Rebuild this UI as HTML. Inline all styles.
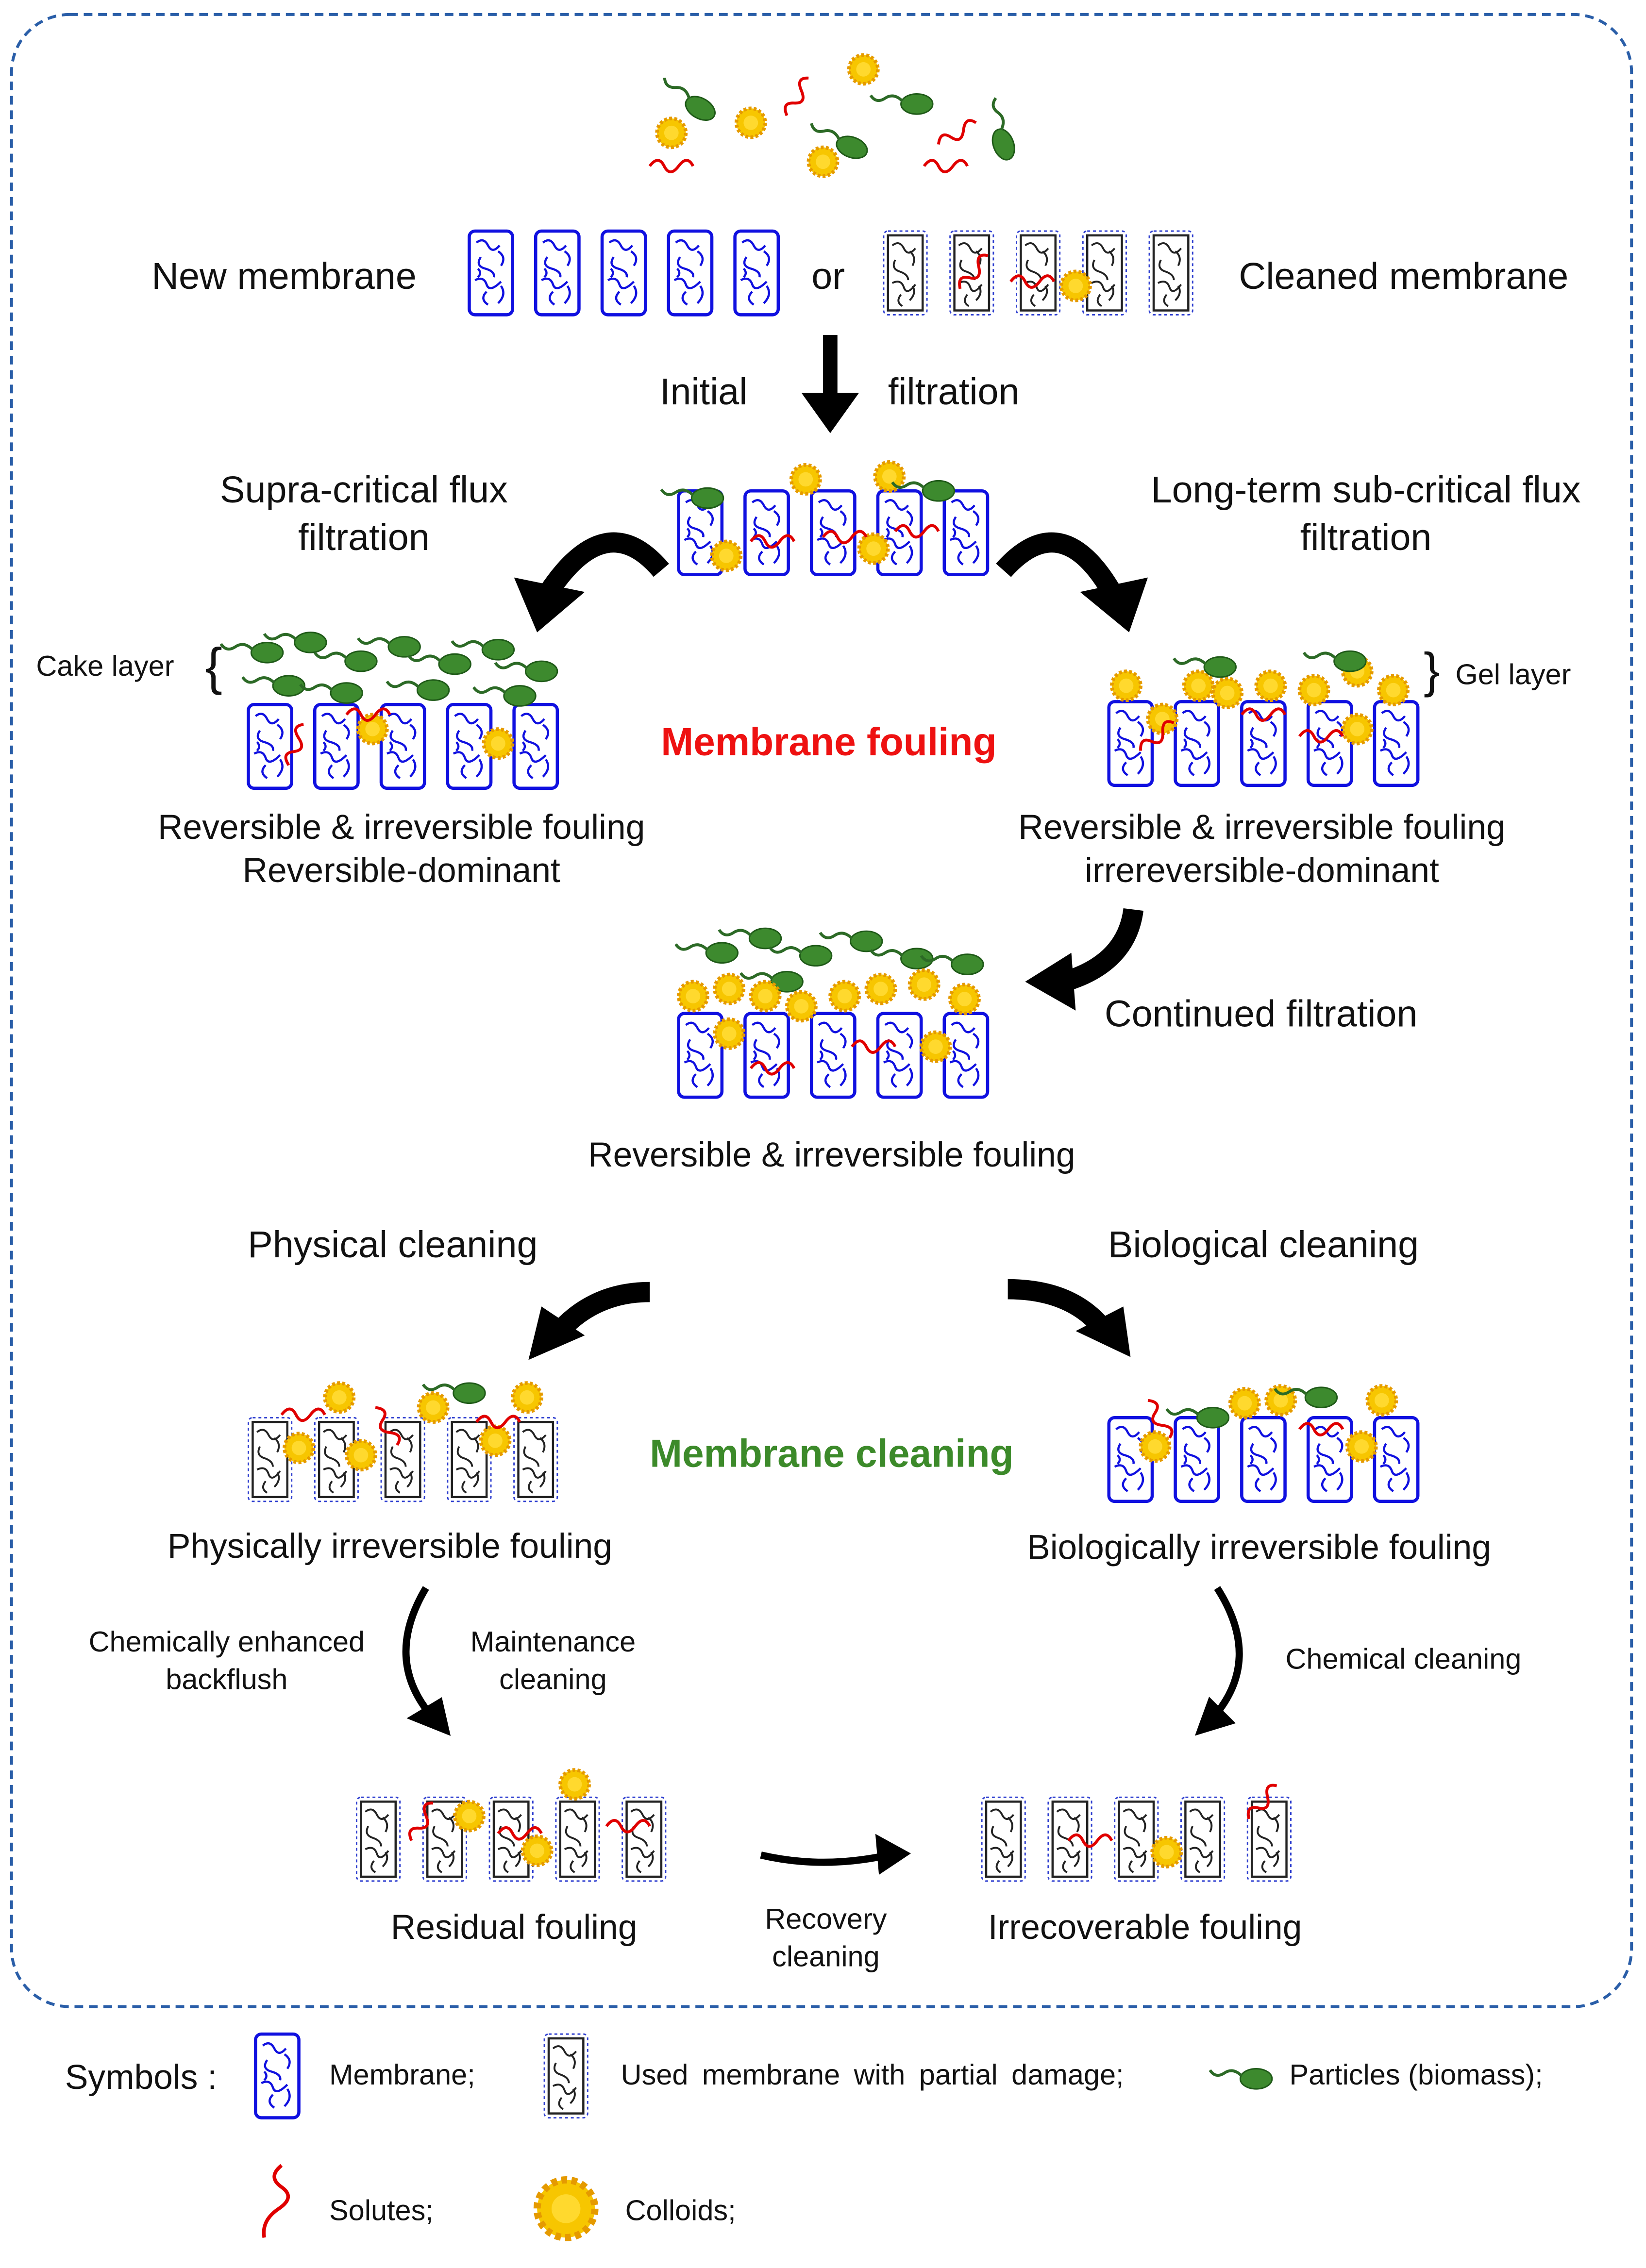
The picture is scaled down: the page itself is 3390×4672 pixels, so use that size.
<!DOCTYPE html>
<html><head><meta charset="utf-8"><style>
html,body{margin:0;padding:0;background:#fff;width:3390px;height:4672px;overflow:hidden}
svg{display:block}
text{font-family:"Liberation Sans",Arial,sans-serif;fill:#111}
</style></head><body>
<svg width="3390" height="4672" viewBox="0 0 1140 1571" xmlns="http://www.w3.org/2000/svg">
<defs>
<g id="mem">
<rect x="0" y="0" width="30" height="58" rx="4" fill="#fff" stroke="#1010e0" stroke-width="2.2"/>
<path d="M5 8 q5 -4 8 2 t8 0 M8 18 q-4 6 3 8 t6 6 M20 14 q6 4 2 10 M4 34 q6 -3 8 3 t10 -2 M12 42 q-5 5 1 9 M22 38 q4 6 -2 12 M6 26 q3 3 0 6" fill="none" stroke="#1010e0" stroke-width="1.5"/>
</g>
<g id="used">
<rect x="0" y="0" width="30" height="58" rx="3" fill="#fff" stroke="#3040d0" stroke-width="1" stroke-dasharray="2,2"/>
<rect x="3" y="3" width="24" height="52" fill="#fff" stroke="#222" stroke-width="1.5"/>
<path d="M6 10 q5 -4 8 2 t8 0 M8 20 q-3 6 3 8 t6 6 M18 14 q5 4 2 10 M6 36 q6 -3 8 3 t8 -2 M12 44 q-4 5 1 8 M20 38 q3 5 -2 10" fill="none" stroke="#222" stroke-width="1.3"/>
</g>
<g id="col">
<circle r="10" fill="#f7c600" stroke="#e59a00" stroke-width="2.5" stroke-dasharray="2,1.5"/>
<circle r="5" fill="#ffd92e"/>
</g>
<g id="part">
<ellipse cx="0" cy="0" rx="11" ry="7" fill="#3d8a2e" stroke="#1f5a18" stroke-width="1"/>
<path d="M-10 -2 q-6 -6 -12 -2 t-10 -2" fill="none" stroke="#2c6a26" stroke-width="2"/>
</g>
<path id="sol" d="M0 0 q6 -8 10 0 t10 0 t10 0" fill="none" stroke="#e00000" stroke-width="2"/>
<g id="row5m"><use href="#mem" x="0"/><use href="#mem" x="46"/><use href="#mem" x="92"/><use href="#mem" x="138"/><use href="#mem" x="184"/></g>
<g id="row5u"><use href="#used" x="0"/><use href="#used" x="46"/><use href="#used" x="92"/><use href="#used" x="138"/><use href="#used" x="184"/></g>
</defs>

<rect x="8" y="10" width="1122" height="1380" rx="40" fill="none" stroke="#2a5ea8" stroke-width="2" stroke-dasharray="6,4"/>

<use href="#part" x="485" y="75" transform="rotate(30 485 75)"/>
<use href="#part" x="635" y="72"/>
<use href="#part" x="590" y="102" transform="rotate(20 590 102)"/>
<use href="#part" x="695" y="100" transform="rotate(70 695 100)"/>
<use href="#col" x="520" y="85"/><use href="#col" x="598" y="48"/><use href="#col" x="570" y="112"/><use href="#col" x="465" y="92"/>
<use href="#sol" x="450" y="115"/><use href="#sol" x="545" y="80" transform="rotate(-60 545 80)"/><use href="#sol" x="640" y="115"/><use href="#sol" x="650" y="100" transform="rotate(-30 650 100)"/>

<text x="105" y="200" font-size="26">New membrane</text>
<use href="#row5m" x="325" y="160"/>
<text x="562" y="200" font-size="26">or</text>
<use href="#row5u" x="612" y="160"/>
<use href="#sol" x="665" y="200" transform="rotate(-50 665 200)"/><use href="#sol" x="700" y="195"/><use href="#col" x="745" y="198"/>
<text x="858" y="200" font-size="26">Cleaned membrane</text>

<text x="457" y="280" font-size="26">Initial</text>
<text x="615" y="280" font-size="26">filtration</text>
<path d="M570 232 L580 232 L580 272 L595 272 L575 300 L555 272 L570 272z" fill="#000"/>

<text x="252" y="348" font-size="26" text-anchor="middle">Supra-critical flux</text>
<text x="252" y="381" font-size="26" text-anchor="middle">filtration</text>
<text x="946" y="348" font-size="26" text-anchor="middle">Long-term sub-critical flux</text>
<text x="946" y="381" font-size="26" text-anchor="middle">filtration</text>

<use href="#row5m" x="470" y="340"/>
<use href="#col" x="558" y="332"/><use href="#col" x="616" y="330"/><use href="#col" x="503" y="385"/><use href="#col" x="605" y="380"/>
<use href="#part" x="490" y="345"/><use href="#part" x="650" y="340"/>
<use href="#sol" x="520" y="375"/><use href="#sol" x="570" y="372"/><use href="#sol" x="620" y="368"/>

<path d="M458 395 Q420 350 380 410" fill="none" stroke="#000" stroke-width="14"/>
<path d="M356 400 L405 410 L372 438z" fill="#000"/>
<path d="M695 395 Q735 350 770 410" fill="none" stroke="#000" stroke-width="14"/>
<path d="M795 400 L748 410 L782 438z" fill="#000"/>

<text x="25" y="468" font-size="20">Cake layer</text>
<text x="142" y="474" font-size="36" fill="#444">{</text>
<use href="#row5m" x="172" y="488"/>
<g>
<use href="#part" x="185" y="452"/><use href="#part" x="215" y="445"/><use href="#part" x="250" y="458"/><use href="#part" x="280" y="448"/><use href="#part" x="315" y="460"/><use href="#part" x="345" y="450"/><use href="#part" x="375" y="465"/><use href="#part" x="200" y="475"/><use href="#part" x="300" y="478"/><use href="#part" x="360" y="482"/><use href="#part" x="240" y="480"/>
</g>
<use href="#col" x="345" y="515"/><use href="#col" x="258" y="505"/>
<use href="#sol" x="200" y="530" transform="rotate(-70 200 530)"/><use href="#sol" x="240" y="495"/>
<text x="278" y="581" font-size="24" text-anchor="middle">Reversible &amp; irreversible fouling</text>
<text x="278" y="611" font-size="24" text-anchor="middle">Reversible-dominant</text>

<use href="#row5m" x="768" y="486"/>
<use href="#col" x="780" y="475"/><use href="#col" x="805" y="498"/><use href="#col" x="850" y="480"/><use href="#col" x="880" y="475"/><use href="#col" x="910" y="478"/><use href="#col" x="940" y="465"/><use href="#col" x="965" y="478"/><use href="#col" x="940" y="505"/><use href="#col" x="830" y="475"/>
<use href="#part" x="845" y="462"/><use href="#part" x="935" y="458"/>
<use href="#sol" x="790" y="520" transform="rotate(-40 790 520)"/><use href="#sol" x="860" y="495"/><use href="#sol" x="900" y="510"/>
<text x="986" y="476" font-size="34" fill="#444">}</text>
<text x="1008" y="474" font-size="20">Gel layer</text>
<text x="874" y="581" font-size="24" text-anchor="middle">Reversible &amp; irreversible fouling</text>
<text x="874" y="611" font-size="24" text-anchor="middle">irrereversible-dominant</text>

<text x="574" y="523" font-size="27" font-weight="bold" text-anchor="middle" style="fill:#ee1111">Membrane fouling</text>

<path d="M785 630 Q780 670 730 682" fill="none" stroke="#000" stroke-width="14"/>
<path d="M710 680 L742 660 L745 700z" fill="#000"/>
<text x="765" y="711" font-size="26">Continued filtration</text>
<use href="#row5m" x="470" y="702"/>
<use href="#part" x="500" y="660"/><use href="#part" x="530" y="650"/><use href="#part" x="565" y="662"/><use href="#part" x="600" y="652"/><use href="#part" x="635" y="664"/><use href="#part" x="670" y="668"/><use href="#part" x="545" y="680"/>
<use href="#col" x="480" y="690"/><use href="#col" x="505" y="685"/><use href="#col" x="530" y="690"/><use href="#col" x="555" y="697"/><use href="#col" x="585" y="690"/><use href="#col" x="610" y="685"/><use href="#col" x="640" y="682"/><use href="#col" x="668" y="692"/><use href="#col" x="505" y="716"/><use href="#col" x="648" y="725"/>
<use href="#sol" x="520" y="740"/><use href="#sol" x="590" y="725"/>
<text x="576" y="808" font-size="24" text-anchor="middle">Reversible &amp; irreversible fouling</text>

<text x="272" y="871" font-size="26" text-anchor="middle">Physical cleaning</text>
<text x="875" y="871" font-size="26" text-anchor="middle">Biological cleaning</text>
<path d="M450 895 Q410 895 385 925" fill="none" stroke="#000" stroke-width="14"/>
<path d="M366 942 L375 905 L405 925z" fill="#000"/>
<path d="M698 893 Q740 893 762 918" fill="none" stroke="#000" stroke-width="14"/>
<path d="M783 940 L745 922 L778 905z" fill="#000"/>

<use href="#row5u" x="172" y="982"/>
<use href="#col" x="235" y="968"/><use href="#col" x="207" y="1003"/><use href="#col" x="250" y="1008"/><use href="#col" x="300" y="975"/><use href="#col" x="343" y="998"/><use href="#col" x="365" y="968"/>
<use href="#part" x="325" y="965"/>
<use href="#sol" x="195" y="980"/><use href="#sol" x="260" y="975" transform="rotate(60 260 975)"/><use href="#sol" x="330" y="985"/>
<text x="270" y="1079" font-size="24" text-anchor="middle">Physically irreversible fouling</text>

<text x="576" y="1016" font-size="27" font-weight="bold" text-anchor="middle" style="fill:#3c8a2a">Membrane cleaning</text>

<use href="#row5m" x="768" y="982"/>
<use href="#col" x="800" y="1002"/><use href="#col" x="862" y="972"/><use href="#col" x="887" y="970"/><use href="#col" x="957" y="970"/><use href="#col" x="943" y="1002"/>
<use href="#part" x="840" y="982"/><use href="#part" x="915" y="968"/>
<use href="#sol" x="795" y="970" transform="rotate(60 795 970)"/><use href="#sol" x="900" y="990"/>
<text x="872" y="1080" font-size="24" text-anchor="middle">Biologically irreversible fouling</text>

<path d="M295 1100 Q265 1150 300 1190" fill="none" stroke="#000" stroke-width="5"/>
<path d="M310 1200 L285 1190 L305 1178z" fill="#000" stroke="#000" stroke-width="3"/>
<text x="157" y="1144" font-size="20" text-anchor="middle">Chemically enhanced</text>
<text x="157" y="1170" font-size="20" text-anchor="middle">backflush</text>
<text x="383" y="1144" font-size="20" text-anchor="middle">Maintenance</text>
<text x="383" y="1170" font-size="20" text-anchor="middle">cleaning</text>

<path d="M843 1100 Q875 1150 840 1190" fill="none" stroke="#000" stroke-width="5"/>
<path d="M830 1200 L838 1178 L853 1193z" fill="#000" stroke="#000" stroke-width="3"/>
<text x="972" y="1156" font-size="20" text-anchor="middle">Chemical cleaning</text>

<use href="#row5u" x="247" y="1245"/>
<use href="#col" x="325" y="1258"/><use href="#col" x="398" y="1236"/><use href="#col" x="372" y="1282"/>
<use href="#sol" x="285" y="1275" transform="rotate(-60 285 1275)"/><use href="#sol" x="345" y="1270"/><use href="#sol" x="420" y="1265"/>
<text x="356" y="1343" font-size="24" text-anchor="middle">Residual fouling</text>

<path d="M527 1285 Q570 1295 615 1285" fill="none" stroke="#000" stroke-width="5"/>
<path d="M628 1284 L608 1273 L610 1296z" fill="#000" stroke="#000" stroke-width="3"/>
<text x="572" y="1336" font-size="20" text-anchor="middle">Recovery</text>
<text x="572" y="1362" font-size="20" text-anchor="middle">cleaning</text>

<use href="#row5u" x="680" y="1245"/>
<use href="#col" x="808" y="1283"/>
<use href="#sol" x="740" y="1275"/><use href="#sol" x="865" y="1260" transform="rotate(-50 865 1260)"/>
<text x="793" y="1343" font-size="24" text-anchor="middle">Irrecoverable fouling</text>

<text x="45" y="1447" font-size="24">Symbols :</text>
<use href="#mem" x="177" y="1409"/>
<text x="228" y="1444" font-size="20">Membrane;</text>
<use href="#used" x="377" y="1409"/>
<text x="430" y="1444" font-size="20" style="word-spacing:4px">Used membrane with partial damage;</text>
<use href="#part" x="870" y="1440"/>
<text x="893" y="1444" font-size="20">Particles (biomass);</text>
<path d="M195 1500 q-10 8 0 15 t-2 15 t-10 20" fill="none" stroke="#e00000" stroke-width="2.5"/>
<text x="228" y="1538" font-size="20">Solutes;</text>
<g transform="translate(392 1530) scale(2)"><use href="#col"/></g>
<text x="433" y="1538" font-size="20">Colloids;</text>
</svg>
</body></html>
